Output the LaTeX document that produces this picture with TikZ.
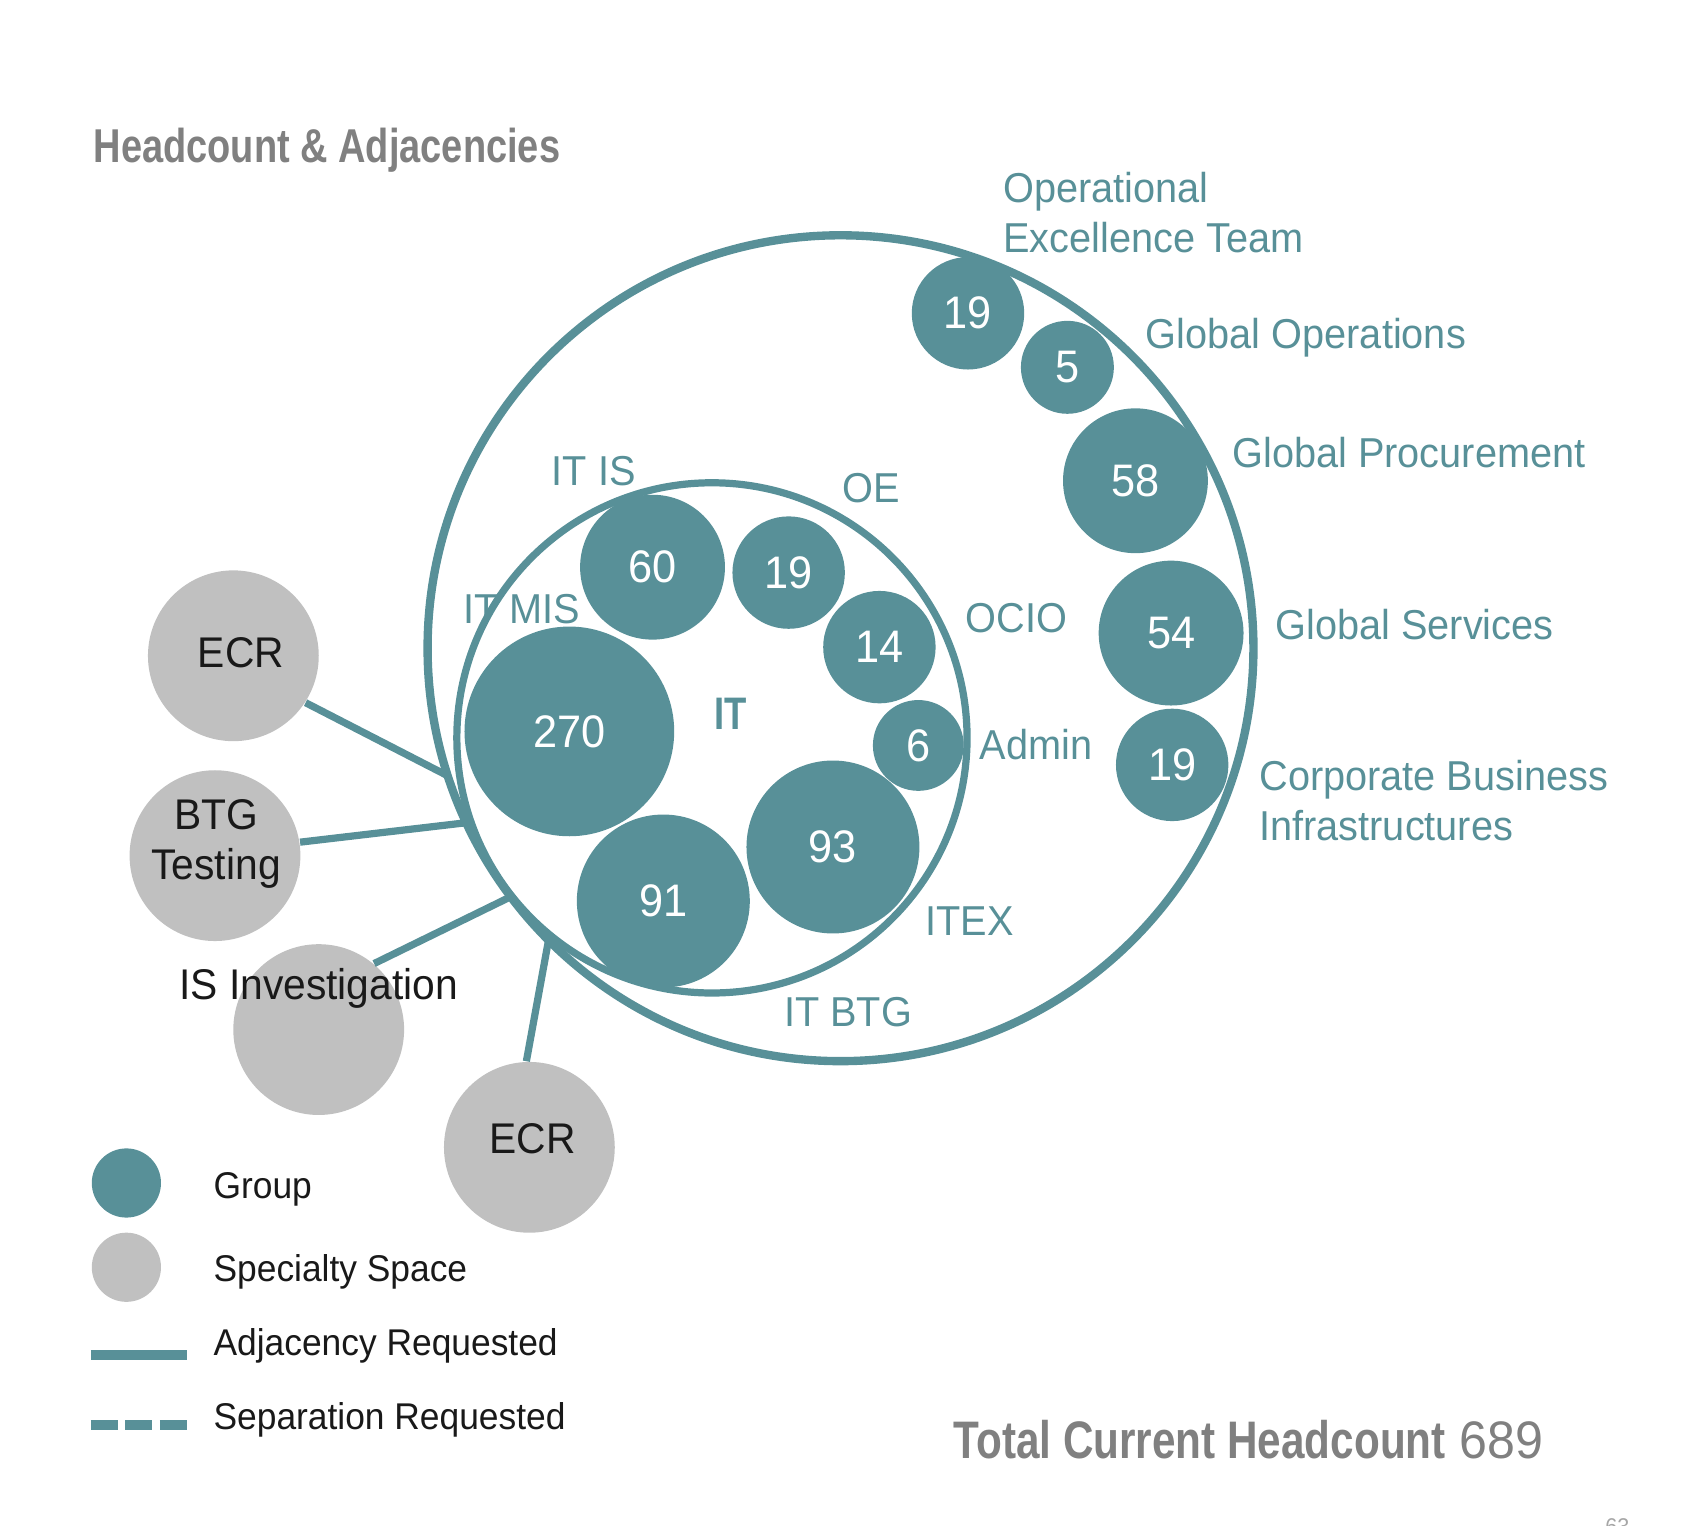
\documentclass[tikz,border=0pt]{standalone}
\usepackage{fontspec}
\setmainfont[FakeStretch=0.95]{Liberation Sans}
\newfontfamily\headfont[FakeStretch=0.8]{Liberation Sans}
\definecolor{itteal}{RGB}{88,144,152}
\definecolor{spcgray}{RGB}{192,192,192}
\definecolor{headgray}{RGB}{128,128,128}
\begin{document}
\begin{tikzpicture}[x=0.01cm,y=-0.01cm,line cap=butt,
  grp/.style={circle,fill=itteal,text=white,inner sep=0pt,font=\fontsize{12}{14}\selectfont},
  spc/.style={circle,fill=spcgray,inner sep=0pt},
  ring/.style={circle,draw=itteal,inner sep=0pt,outer sep=0pt},
  lbl/.style={text=itteal,inner sep=0pt,font=\fontsize{11}{13.2}\selectfont},
  blk/.style={text=black!90,inner sep=0pt,font=\fontsize{11.3}{13.3}\selectfont},
  leg/.style={text=black!90,inner sep=0pt,font=\fontsize{9.8}{12}\selectfont},
  adj/.style={draw=itteal,line width=1.9pt}]
\useasboundingbox (0,0) rectangle (1568,1412);
\node[anchor=base west,inner sep=0pt,text=headgray,font={\headfont\bfseries\fontsize{12.5}{15}\selectfont}] (title) at (86,150) {Headcount \& Adjacencies};
% rings
\node[ring,line width=2.2pt,minimum size=7.64cm] (outer) at (778,600) {};
\node[ring,line width=1.9pt,minimum size=4.72cm] (inner) at (659,683) {};
% specialty spaces
\node[spc,minimum size=1.58cm] (ecrA) at (216,607) {};
\node[spc,minimum size=1.58cm] (btg) at (199,792) {};
\node[spc,minimum size=1.58cm] (isinv) at (295,953) {};
\node[spc,minimum size=1.58cm] (ecrB) at (490,1062) {};
\draw[adj] (ecrA.327) -- (outer.198);
\draw[adj] (btg.9) -- (outer.205);
\draw[adj] (isinv.50) -- (outer.217);
\draw[adj] (ecrB.92) -- (outer.225);
\node[blk] at (223,604) {ECR};
\node[blk,align=center,anchor=north] at (200,739) {BTG\\Testing};
\node[blk,anchor=base] at (295,925) {IS Investigation};
\node[blk] at (493,1054) {ECR};
% groups
\foreach \n/\x/\y/\d/\t in {opx/896/290/1.04/19, gops/988/340/0.86/5, proc/1051/445/1.34/58,
  serv/1084/586/1.34/54, cbi/1085/708/1.04/19, itis/604/525/1.34/60, oe/730/530/1.04/19,
  ocio/814/599/1.04/14, admin/850/690/0.84/6, itmis/527/677/1.94/270, itex/771/784/1.6/93,
  itbtg/614/834/1.6/91}
  \node[grp,minimum size=\d cm] (\n) at (\x,\y) {\t};
\node[text=itteal,inner sep=0pt,font={\headfont\bfseries\fontsize{12}{14}\selectfont}] (it) at (676,661) {IT};
% labels
\node[lbl,anchor=north west,align=left] (opxl) at (928,159) {Operational\\Excellence Team};
\node[lbl,anchor=base west] (gopsl) at (1060,323) {Global Operations};
\node[lbl,anchor=base west] (procl) at (1140,433) {Global Procurement};
\node[lbl,anchor=base west] (servl) at (1180,592) {Global Services};
\node[lbl,anchor=north west,align=left] (cbil) at (1165,703) {Corporate Business\\Infrastructures};
\node[lbl,anchor=base west] (itisl) at (510,449) {IT IS};
\node[lbl,anchor=base west] (oel) at (779,465) {OE};
\node[lbl,anchor=base west] (itmisl) at (428,577) {IT MIS};
\node[lbl,anchor=base west] (ocil) at (893,585) {OCIO};
\node[lbl,anchor=base west] (adminl) at (906,703) {Admin};
\node[lbl,anchor=base west] (itexl) at (856,866) {ITEX};
\node[lbl,anchor=base west] (itbtgl) at (725,950) {IT BTG};
% legend
\node[grp,minimum size=0.64cm] (lgrp) at (117,1095) {};
\node[spc,minimum size=0.64cm] (lspc) at (117,1173) {};
\node[leg,anchor=base west] at (197,1109) {Group};
\node[leg,anchor=base west] at (197,1186) {Specialty Space};
\node[leg,anchor=base west] at (197,1255) {Adjacency Requested};
\node[leg,anchor=base west] at (197,1323) {Separation Requested};
\draw[itteal,line width=2.6pt] (84,1254) -- (173,1254);
\draw[itteal,line width=2.6pt,dash pattern=on 7.1pt off 2pt] (84,1319) -- (173,1319);
% total
\node[anchor=base west,inner sep=0pt,text=headgray,font=\fontsize{13.9}{16}\selectfont] (total) at (882,1350) {{\headfont\bfseries Total Current Headcount} 689};
\node[anchor=north,inner sep=0pt,text=headgray!70,font=\fontsize{6}{7}\selectfont] (page) at (1497,1405) {63};
\end{tikzpicture}
\end{document}
